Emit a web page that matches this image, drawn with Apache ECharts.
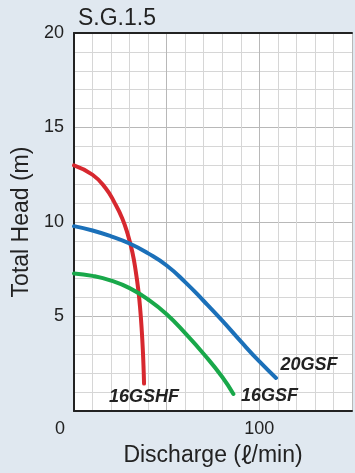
<!DOCTYPE html>
<html><head><meta charset="utf-8">
<script src="https://cdn.jsdelivr.net/npm/echarts@6/dist/echarts.min.js"></script>
<style>html,body{margin:0;padding:0;background:#e0e8f0}#c{width:355px;height:473px}</style>
</head><body><div id="c"></div>
<script>
const titleText = 'S.G.1.5';
const xAxisNameParts = ['Discharge (', 'ℓ', '/min)'];
const yAxisName = 'Total Head (m)';
const xLabeled = [0, 100];
const yLabeled = [5, 10, 15, 20];
const seriesNames = ['16GSHF', '16GSF', '20GSF'];
const seriesColors = ['#d7282f', '#19a84a', '#1b70b9'];
// 16GSHF
const q16GSHF = [0, 10, 17, 22, 26, 29, 31.5, 33.3, 34.7, 35.8, 36.6, 37.2, 37.6, 37.8];
const h16GSHF = [13, 12.5, 11.8, 11.0, 10.2, 9.35, 8.4, 7.4, 6.4, 5.3, 4.2, 3.1, 2.1, 1.45];
// 16GSF
const q16GSF = [0, 10, 20, 30, 40, 50, 60, 70, 80, 86];
const h16GSF = [7.28, 7.15, 6.9, 6.5, 5.9, 5.12, 4.12, 3.02, 1.8, 0.9];
// 20GSF
const q20GSF = [0, 10, 20, 30, 40, 50, 60, 70, 80, 90, 100, 109];
const h20GSF = [9.78, 9.55, 9.24, 8.86, 8.34, 7.7, 6.82, 5.82, 4.78, 3.68, 2.62, 1.75];

const labelPlacement = [
  {position: 'bottom', distance: 4, offset: [0, 0]},
  {position: 'right', distance: 7, offset: [0, 2]},
  {position: 'right', distance: 4, offset: [0, -13]}
];
const qs = [q16GSHF, q16GSF, q20GSF];
const hs = [h16GSHF, h16GSF, h20GSF];

function buildData(i) {
  const q = qs[i], h = hs[i];
  return q.map((x, k) => {
    if (k === q.length - 1) {
      return {value: [x, h[k]], label: Object.assign({show: true, formatter: seriesNames[i],
        fontFamily: 'Liberation Sans', fontSize: 18, fontWeight: 'bold', fontStyle: 'italic', color: '#222'}, labelPlacement[i])};
    }
    return [x, h[k]];
  });
}

const chart = echarts.init(document.getElementById('c'));
const ff = 'Liberation Sans';
chart.setOption({
  backgroundColor: '#e0e8f0',
  animation: false,
  textStyle: {fontFamily: ff},
  title: {text: titleText, left: 73, top: 2, textStyle: {fontFamily: ff, fontSize: 23, fontWeight: 'normal', color: '#222'}},
  grid: {left: 74, top: 33, width: 283.5, bottom: 62, backgroundColor: '#fff', show: true, borderWidth: 0},
  xAxis: [{
    type: 'value', min: 0, max: 150, interval: 50,
    name: '{a|' + xAxisNameParts[0] + '}{b|' + xAxisNameParts[1] + '}{a|' + xAxisNameParts[2] + '}',
    nameLocation: 'middle', nameGap: 33,
    nameTextStyle: {fontFamily: ff, fontSize: 23, color: '#222',
      rich: {a: {fontFamily: ff, fontSize: 23, color: '#222'},
             b: {fontFamily: 'Noto Sans CJK JP', fontSize: 23, color: '#222'}}},
    axisLine: {show: true, onZero: false, lineStyle: {color: '#222', width: 2}},
    axisTick: {show: false},
    axisLabel: {margin: 9, fontSize: 18, color: '#222',
      formatter: v => v === 0 ? '{z|0}' : (xLabeled.indexOf(v) >= 0 ? String(v) : ''),
      rich: {z: {fontSize: 18, color: '#222', fontFamily: ff, padding: [0, 28, 0, 0]}}},
    splitLine: {show: true, lineStyle: {color: '#b8b8b8', width: 1}},
    minorTick: {show: false, splitNumber: 5},
    minorSplitLine: {show: true, lineStyle: {color: '#d6d6d6', width: 1}}
  }, {
    type: 'value', min: 0, max: 150, position: 'top',
    axisLine: {show: true, onZero: false, lineStyle: {color: '#222', width: 2}},
    axisTick: {show: false}, axisLabel: {show: false}, splitLine: {show: false}
  }],
  yAxis: {
    type: 'value', min: 0, max: 20, interval: 5,
    name: yAxisName, nameLocation: 'middle', nameGap: 40,
    nameTextStyle: {fontFamily: ff, fontSize: 23, color: '#222'},
    axisLine: {show: true, onZero: false, lineStyle: {color: '#222', width: 2}},
    axisTick: {show: false},
    axisLabel: {margin: 10, fontSize: 18, color: '#222',
      formatter: v => yLabeled.indexOf(v) >= 0 ? String(v) : ''},
    splitLine: {show: true, lineStyle: {color: '#b8b8b8', width: 1}},
    minorTick: {show: false, splitNumber: 5},
    minorSplitLine: {show: true, lineStyle: {color: '#d6d6d6', width: 1}}
  },
  series: seriesNames.map((n, i) => ({
    name: n, type: 'line', smooth: 0.5,
    symbol: 'circle', symbolSize: 1, showSymbol: true,
    itemStyle: {color: seriesColors[i]},
    lineStyle: {color: seriesColors[i], width: 4, cap: 'round'},
    data: buildData(i),
    z: 3
  }))
});
</script></body></html>
